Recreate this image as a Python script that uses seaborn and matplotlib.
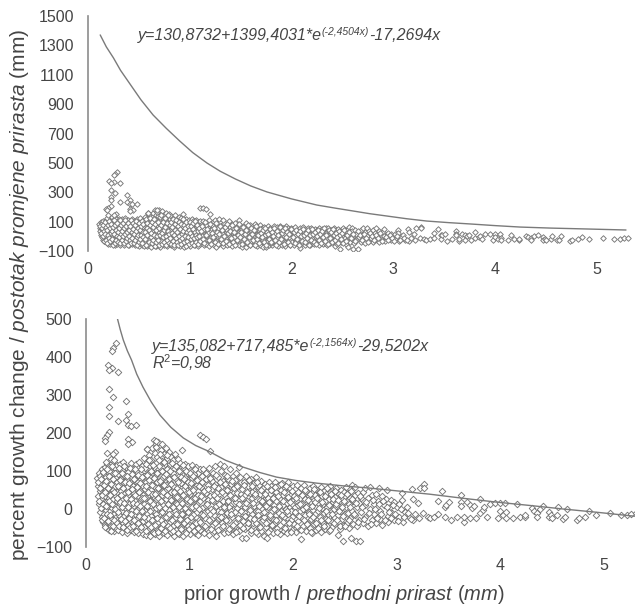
"""Prior growth vs percent growth change, same points on two y scales with upper boundary curves."""

import matplotlib.pyplot as plt
import pandas as pd
import seaborn as sns

# points, (prior growth, percent change), grouped by x range
band_010_030 = [
    (0.11, 82), (0.12, 60), (0.12, 35), (0.13, 95), (0.13, 71), (0.13, 12), (0.14, 48), (0.14, -8), (0.14, 88), (0.15, 26),
    (0.15, 66), (0.15, -22), (0.15, 104), (0.16, 5), (0.16, 43), (0.16, 77), (0.16, -35), (0.17, 92), (0.17, 18), (0.17, 58),
    (0.17, -14), (0.18, 110), (0.18, 33), (0.18, -42), (0.18, 70), (0.19, -3), (0.19, 52), (0.19, 85), (0.19, -28), (0.20, 118),
    (0.20, 22), (0.20, -50), (0.20, 64), (0.21, 40), (0.21, -18), (0.21, 98), (0.21, 8), (0.22, 76), (0.22, -38), (0.22, 30),
    (0.22, -55), (0.23, 55), (0.23, 112), (0.23, -6), (0.23, 15), (0.24, 88), (0.24, -46), (0.24, 42), (0.24, -25), (0.25, 122),
    (0.25, 68), (0.25, 3), (0.25, -52), (0.26, 26), (0.26, 96), (0.26, -33), (0.26, 50), (0.27, -12), (0.27, 78), (0.27, -58),
    (0.27, 11), (0.28, 108), (0.28, 36), (0.28, -41), (0.28, 60), (0.29, -20), (0.29, 84), (0.29, -2), (0.29, -50), (0.30, 45),
    (0.30, 115), (0.30, 20), (0.30, -30), (0.30, 72), (0.22, 100), (0.19, 125), (0.24, 132), (0.27, 128),
]
band_030_055 = [
    (0.31, -56), (0.31, 6), (0.31, 92), (0.32, 32), (0.32, -16), (0.32, 62), (0.33, 118), (0.33, -44), (0.33, 14), (0.34, 80),
    (0.34, -27), (0.34, 47), (0.35, 102), (0.35, -60), (0.35, -5), (0.35, 25), (0.36, 70), (0.36, -36), (0.36, 125), (0.37, 40),
    (0.37, -18), (0.37, 90), (0.38, 2), (0.38, -52), (0.38, 58), (0.39, 110), (0.39, 18), (0.39, -30), (0.40, 76), (0.40, -8),
    (0.40, -62), (0.41, 36), (0.41, 98), (0.41, -42), (0.42, 12), (0.42, 66), (0.42, -22), (0.43, 120), (0.43, 50), (0.43, -54),
    (0.44, -3), (0.44, 84), (0.44, 28), (0.45, -36), (0.45, 60), (0.45, 106), (0.46, 8), (0.46, -60), (0.46, 42), (0.47, -14),
    (0.47, 74), (0.47, 20), (0.48, 118), (0.48, -46), (0.48, 54), (0.49, -26), (0.49, 90), (0.49, 0), (0.50, 34), (0.50, -64),
    (0.50, 70), (0.51, 124), (0.51, -10), (0.51, 16), (0.52, 48), (0.52, -40), (0.52, 96), (0.53, -56), (0.53, 26), (0.53, 80),
    (0.54, -20), (0.54, 4), (0.54, 112), (0.55, 60), (0.55, -66), (0.55, 38), (0.55, -32), (0.48, 100), (0.36, 8), (0.40, 58),
]
band_055_080 = [
    (0.56, 134), (0.56, 88), (0.56, 14), (0.56, -48), (0.57, 52), (0.57, -4), (0.57, 108), (0.58, -26), (0.58, 72), (0.58, 30),
    (0.58, -68), (0.59, 158), (0.59, 122), (0.59, -12), (0.60, 44), (0.60, 96), (0.60, -56), (0.60, 6), (0.61, 66), (0.61, 142),
    (0.61, -36), (0.62, 24), (0.62, 114), (0.62, -70), (0.62, 84), (0.63, -18), (0.63, 50), (0.63, 130), (0.64, 0), (0.64, 76),
    (0.64, -44), (0.64, 160), (0.65, 34), (0.65, 102), (0.65, -60), (0.66, 182), (0.66, 60), (0.66, 16), (0.66, -28), (0.67, 148),
    (0.67, 88), (0.67, -66), (0.67, -8), (0.68, 120), (0.68, 42), (0.68, 172), (0.68, -50), (0.69, 70), (0.69, 10), (0.69, 136),
    (0.70, -34), (0.70, 176), (0.70, 94), (0.70, 28), (0.71, -70), (0.71, 54), (0.71, 112), (0.71, -14), (0.72, 156), (0.72, 80),
    (0.72, 2), (0.73, 170), (0.73, -46), (0.73, 38), (0.73, 126), (0.74, -24), (0.74, 64), (0.74, 100), (0.75, 146), (0.75, -62),
    (0.75, 18), (0.75, 86), (0.76, -6), (0.76, 48), (0.76, 118), (0.76, -38), (0.77, 160), (0.77, 72), (0.77, 26), (0.78, -68),
    (0.78, 104), (0.78, 6), (0.78, 134), (0.79, -20), (0.79, 56), (0.79, 90), (0.80, -52), (0.80, 150), (0.80, 34), (0.80, -2),
    (0.58, 60), (0.62, 8), (0.66, 110), (0.70, -54), (0.74, 10), (0.78, 66), (0.60, -24), (0.64, 40), (0.68, -12), (0.72, -30),
]
band_080_110 = [
    (0.81, 118), (0.81, 72), (0.81, -34), (0.81, 14), (0.82, 138), (0.82, -60), (0.82, 44), (0.83, 92), (0.83, -10), (0.83, 24),
    (0.84, 128), (0.84, -44), (0.84, 60), (0.85, -70), (0.85, 4), (0.85, 106), (0.86, 146), (0.86, 36), (0.86, -24), (0.87, 80),
    (0.87, -54), (0.87, 16), (0.88, 112), (0.88, -6), (0.88, 54), (0.89, -38), (0.89, 132), (0.89, 28), (0.90, -66), (0.90, 88),
    (0.90, 66), (0.91, 8), (0.91, -18), (0.91, 122), (0.92, 42), (0.92, -48), (0.92, 100), (0.93, 155), (0.93, -28), (0.93, 74),
    (0.94, 18), (0.94, -70), (0.94, 50), (0.95, 108), (0.95, -8), (0.95, -40), (0.96, 84), (0.96, 32), (0.96, 118), (0.97, -58),
    (0.97, 0), (0.97, 62), (0.98, 96), (0.98, -22), (0.98, 22), (0.99, -46), (0.99, 76), (0.99, 112), (1.00, 40), (1.00, -66),
    (1.00, 6), (1.01, 90), (1.01, -30), (1.01, 56), (1.02, 116), (1.02, -12), (1.02, 26), (1.03, -52), (1.03, 70), (1.03, 102),
    (1.04, 10), (1.04, -36), (1.04, 46), (1.05, 84), (1.05, -62), (1.05, -2), (1.06, 110), (1.06, 30), (1.06, -20), (1.07, 64),
    (1.07, -44), (1.07, 14), (1.08, 96), (1.08, -68), (1.08, 48), (1.09, -6), (1.09, 78), (1.09, -28), (1.10, 104), (1.10, 20),
    (1.10, -54), (0.84, 94), (0.88, 12), (0.92, 68), (0.96, -34), (1.00, 64), (1.04, 92), (0.86, -4), (0.94, -12), (1.02, 82),
]
band_110_150 = [
    (1.11, 58), (1.11, -14), (1.12, 86), (1.12, -40), (1.13, 30), (1.13, 104), (1.14, -62), (1.14, 6), (1.15, 70), (1.15, -24),
    (1.16, 42), (1.16, -50), (1.17, 92), (1.17, 16), (1.18, -6), (1.18, 62), (1.19, -68), (1.19, 108), (1.20, 34), (1.20, -32),
    (1.21, 78), (1.21, 0), (1.22, -46), (1.22, 52), (1.23, 96), (1.23, 20), (1.24, -16), (1.24, -58), (1.25, 66), (1.25, 112),
    (1.26, -71), (1.26, 8), (1.27, 44), (1.27, -28), (1.28, 84), (1.28, -4), (1.29, -52), (1.29, 26), (1.30, 100), (1.30, 58),
    (1.31, -38), (1.31, 12), (1.32, 74), (1.32, -18), (1.33, -64), (1.33, 40), (1.34, 90), (1.34, 2), (1.35, -44), (1.35, 60),
    (1.36, 22), (1.36, -10), (1.37, 80), (1.37, -60), (1.38, 48), (1.38, -30), (1.39, 104), (1.39, 10), (1.40, -50), (1.40, 66),
    (1.41, 32), (1.41, -20), (1.42, 86), (1.42, -66), (1.43, 0), (1.43, 54), (1.44, -36), (1.44, 76), (1.45, 18), (1.45, 94),
    (1.46, -54), (1.46, 42), (1.47, -12), (1.47, 64), (1.48, 110), (1.48, 26), (1.49, -42), (1.49, 6), (1.50, 70), (1.50, -26),
    (1.14, 48), (1.18, 24), (1.22, 74), (1.26, -34), (1.30, -8), (1.34, -24), (1.38, 6), (1.42, 28), (1.46, 2), (1.50, 40),
    (1.12, 2), (1.16, 80), (1.20, -12), (1.24, 38), (1.28, 56), (1.32, 20), (1.36, 50), (1.40, -4), (1.44, -8), (1.48, -58),
]
band_150_200 = [
    (1.51, 52), (1.51, -76), (1.52, 12), (1.52, -32), (1.53, 72), (1.53, -8), (1.54, 36), (1.54, -52), (1.55, 88), (1.55, -75),
    (1.56, 20), (1.56, -20), (1.57, 60), (1.57, -44), (1.58, 2), (1.58, 42), (1.59, 78), (1.59, -62), (1.60, 28), (1.60, -14),
    (1.61, 56), (1.61, -36), (1.62, 8), (1.62, 68), (1.63, -54), (1.63, 34), (1.64, -4), (1.64, 84), (1.65, -26), (1.65, 46),
    (1.66, 14), (1.66, -66), (1.67, 62), (1.67, -42), (1.68, 24), (1.68, -12), (1.69, 74), (1.69, -58), (1.70, 38), (1.70, 0),
    (1.71, -30), (1.71, 54), (1.72, 16), (1.72, -72), (1.73, 66), (1.73, -18), (1.74, 30), (1.74, -48), (1.75, -76), (1.75, 48),
    (1.76, 6), (1.76, -34), (1.77, 70), (1.77, 22), (1.78, -56), (1.78, 40), (1.79, -8), (1.79, 60), (1.80, -24), (1.80, 12),
    (1.81, 52), (1.81, -62), (1.82, 32), (1.82, -40), (1.83, 72), (1.83, 2), (1.84, -16), (1.84, 44), (1.85, -50), (1.85, 18),
    (1.86, 62), (1.86, -30), (1.87, 26), (1.87, -66), (1.88, -6), (1.88, 50), (1.89, 68), (1.89, -44), (1.90, 10), (1.90, 36),
    (1.91, -22), (1.91, -58), (1.92, 56), (1.92, 20), (1.93, -36), (1.93, 0), (1.94, 42), (1.94, -64), (1.95, 70), (1.95, -12),
    (1.96, 28), (1.96, -48), (1.97, 54), (1.97, 6), (1.98, -28), (1.98, 38), (1.99, -56), (1.99, 14), (2.00, 60), (2.00, -18),
    (1.54, 4), (1.58, -24), (1.62, 48), (1.66, -6), (1.70, 18), (1.74, 8), (1.78, -20), (1.82, 10), (1.86, -10), (1.90, -34),
    (1.94, 16), (1.98, -4), (1.56, -48), (1.60, 44), (1.64, -38), (1.68, 40), (1.72, -22), (1.76, 30), (1.80, -46), (1.84, 22),
]
band_200_250 = [
    (2.01, 34), (2.01, -40), (2.02, 4), (2.02, 52), (2.03, -60), (2.03, -14), (2.04, 22), (2.04, 64), (2.05, -32), (2.05, 10),
    (2.06, 44), (2.06, -52), (2.07, -4), (2.07, 30), (2.08, -80), (2.08, 56), (2.09, -24), (2.09, 14), (2.10, 40), (2.10, -46),
    (2.11, 0), (2.11, 62), (2.12, -16), (2.12, 26), (2.13, -58), (2.13, 48), (2.14, 8), (2.14, -36), (2.15, 34), (2.15, -8),
    (2.16, 54), (2.16, -50), (2.17, 18), (2.17, -26), (2.18, 42), (2.18, -62), (2.19, -2), (2.19, 60), (2.20, 24), (2.20, -40),
    (2.21, -14), (2.21, 36), (2.22, 6), (2.22, -54), (2.23, 50), (2.23, -28), (2.24, 16), (2.24, -6), (2.25, 44), (2.25, -46),
    (2.26, 28), (2.26, -20), (2.27, 58), (2.27, -60), (2.28, 2), (2.28, 34), (2.29, -36), (2.29, 12), (2.30, 48), (2.30, -10),
    (2.31, -52), (2.31, 22), (2.32, -26), (2.32, 40), (2.33, 6), (2.33, -44), (2.34, 54), (2.34, -14), (2.35, 26), (2.35, -58),
    (2.36, 10), (2.36, 60), (2.37, -32), (2.37, 36), (2.38, -6), (2.38, -48), (2.39, 18), (2.39, 46), (2.40, -22), (2.40, 0),
    (2.41, 32), (2.41, -40), (2.42, 56), (2.42, 8), (2.43, -69), (2.43, -16), (2.44, 40), (2.44, -34), (2.45, 20), (2.45, -52),
    (2.46, 50), (2.46, -4), (2.47, 28), (2.47, -26), (2.48, -83), (2.48, 12), (2.49, 44), (2.49, -42), (2.50, -12), (2.50, 34),
]
band_250_325 = [
    (2.51, 58), (2.51, 4), (2.52, -36), (2.52, 22), (2.53, -10), (2.53, 42), (2.54, -50), (2.54, 14), (2.55, 30), (2.55, -24),
    (2.56, -76), (2.56, 48), (2.57, 62), (2.57, -4), (2.58, -40), (2.58, 20), (2.60, 59), (2.60, 36), (2.60, -16), (2.61, -83),
    (2.62, 6), (2.62, -46), (2.63, 42), (2.64, -28), (2.64, 16), (2.65, -84), (2.66, 30), (2.66, -8), (2.68, 44), (2.68, -38),
    (2.70, 54), (2.70, 10), (2.70, -20), (2.72, 28), (2.72, -46), (2.74, 57), (2.74, 0), (2.76, 36), (2.76, -30), (2.78, 14),
    (2.78, -12), (2.80, 40), (2.80, -38), (2.82, 22), (2.83, 55), (2.84, -4), (2.84, -26), (2.86, 34), (2.86, -42), (2.88, 10),
    (2.90, 26), (2.91, 50), (2.92, -18), (2.92, -34), (2.94, 6), (2.95, 24), (2.96, -10), (2.98, 18), (2.98, -28), (3.00, 4),
    (3.02, -20), (3.02, 14), (3.05, 41), (3.05, 24), (3.06, -34), (3.08, -8), (3.10, 6), (3.12, -22), (3.15, 52), (3.16, 26),
    (3.16, -30), (3.18, -12), (3.21, 15), (3.22, -24), (3.23, 55), (3.26, -11), (3.27, 65), (3.27, 55), (3.30, -20), (3.32, -24),
]
# second pass over the dense part of the cloud, filling the gaps between the marks above
fill_010_055 = [
    (0.115, 70), (0.125, 22), (0.135, 54), (0.145, 2), (0.145, 78), (0.155, -30), (0.155, 38), (0.165, 98), (0.165, 14), (0.175, 62),
    (0.175, -24), (0.185, 44), (0.185, -48), (0.195, 8), (0.195, 74), (0.205, -12), (0.205, 104), (0.215, 54), (0.215, -32), (0.225, 20),
    (0.225, 86), (0.235, -16), (0.235, 36), (0.245, 66), (0.245, -58), (0.255, 112), (0.255, 14), (0.265, -44), (0.265, 80), (0.275, 44),
    (0.275, -28), (0.285, 0), (0.285, 94), (0.295, 28), (0.295, -36), (0.305, 60), (0.305, -8), (0.315, 108), (0.315, -46), (0.325, 18),
    (0.325, 76), (0.335, -26), (0.335, 38), (0.345, 4), (0.345, 94), (0.355, -48), (0.355, 56), (0.365, 16), (0.365, 112), (0.375, -32),
    (0.375, 72), (0.385, 30), (0.385, -10), (0.395, 88), (0.395, -56), (0.405, 46), (0.405, 4), (0.415, -24), (0.415, 68), (0.425, 108),
    (0.425, -48), (0.435, 26), (0.435, -12), (0.445, 92), (0.445, 52), (0.455, -46), (0.455, 16), (0.465, 78), (0.465, -28), (0.475, 36),
    (0.475, 104), (0.485, -4), (0.485, -58), (0.495, 58), (0.495, 12), (0.505, 90), (0.505, -36), (0.515, 44), (0.515, -18), (0.525, 68),
    (0.525, 8), (0.535, 106), (0.535, -48), (0.545, 30), (0.545, -6), (0.545, 84),
]
fill_055_110 = [
    (0.565, 30), (0.565, -20), (0.575, 118), (0.575, -58), (0.585, 8), (0.585, 90), (0.595, 46), (0.595, -40), (0.605, 128), (0.605, 76),
    (0.615, -6), (0.615, 22), (0.625, 100), (0.625, -48), (0.635, 62), (0.635, -28), (0.645, 116), (0.645, 12), (0.655, -64), (0.655, 82),
    (0.665, -42), (0.665, 40), (0.675, 164), (0.675, 2), (0.685, 96), (0.685, -24), (0.695, 54), (0.695, -60), (0.705, 130), (0.705, 6),
    (0.715, 74), (0.715, 146), (0.725, -50), (0.725, 22), (0.735, 100), (0.735, -8), (0.745, 46), (0.745, -40), (0.755, 124), (0.755, 64),
    (0.765, 2), (0.765, -58), (0.775, 92), (0.775, -22), (0.785, 38), (0.785, 142), (0.795, -44), (0.795, 14), (0.805, 78), (0.805, -12),
    (0.815, 100), (0.815, -50), (0.825, 24), (0.825, 66), (0.835, -30), (0.835, 120), (0.845, 6), (0.845, -58), (0.855, 84), (0.855, 46),
    (0.865, -14), (0.865, 112), (0.875, 32), (0.875, -40), (0.885, 70), (0.885, -62), (0.895, 4), (0.895, 100), (0.905, -26), (0.905, 48),
    (0.915, 84), (0.915, -52), (0.925, 16), (0.925, -14), (0.935, 116), (0.935, 38), (0.945, -36), (0.945, 78), (0.955, 2), (0.955, 60),
    (0.965, -64), (0.965, 100), (0.975, 26), (0.975, -30), (0.985, 70), (0.985, -8), (0.995, 46), (0.995, -52), (1.005, 20), (1.005, 96),
    (1.015, -20), (1.015, 68), (1.025, -44), (1.025, 4), (1.035, 50), (1.035, 88), (1.045, -14), (1.045, -58), (1.055, 30), (1.055, 106),
    (1.065, 8), (1.065, -38), (1.075, 76), (1.075, -8), (1.085, 36), (1.085, -50), (1.095, 60), (1.095, 0),
]
fill_110_200 = [
    (1.105, -34), (1.115, 34), (1.125, 72), (1.135, -16), (1.145, -44), (1.155, 96), (1.165, 12), (1.175, 52), (1.185, -28), (1.195, 82),
    (1.205, -52), (1.215, 24), (1.225, -4), (1.235, 60), (1.245, -36), (1.255, 90), (1.265, 30), (1.275, -54), (1.285, 14), (1.295, 70),
    (1.305, -20), (1.315, 44), (1.325, -46), (1.335, 4), (1.345, 66), (1.355, -30), (1.365, 86), (1.375, 20), (1.385, -52), (1.395, 36),
    (1.405, -14), (1.415, 74), (1.425, -42), (1.435, 28), (1.445, -60), (1.455, 60), (1.465, -24), (1.475, 12), (1.485, 84), (1.495, -4),
    (1.505, 30), (1.515, -50), (1.525, 62), (1.535, -18), (1.545, 16), (1.555, 44), (1.565, -38), (1.575, 76), (1.585, -2), (1.595, -56),
    (1.605, 60), (1.615, 16), (1.625, -26), (1.635, 40), (1.645, -60), (1.655, 70), (1.665, -16), (1.675, 8), (1.685, -48), (1.695, 50),
    (1.705, 22), (1.715, -8), (1.725, 40), (1.735, -36), (1.745, 60), (1.755, -60), (1.765, 18), (1.775, -16), (1.785, 50), (1.795, -42),
    (1.805, 30), (1.815, 0), (1.825, 58), (1.835, -28), (1.845, -60), (1.855, 34), (1.865, 8), (1.875, -42), (1.885, 66), (1.895, -16),
    (1.905, 22), (1.915, 46), (1.925, -50), (1.935, 60), (1.945, -6), (1.955, 32), (1.965, -36), (1.975, 18), (1.985, -60), (1.995, 48),
]
fill_200_300 = [
    (2.015, -8), (2.025, 28), (2.035, -44), (2.045, 46), (2.055, -18), (2.065, 14), (2.075, -56), (2.085, 36), (2.095, 0), (2.105, -30),
    (2.115, 50), (2.125, 6), (2.135, -40), (2.145, 24), (2.155, -14), (2.165, 40), (2.175, -60), (2.185, 8), (2.195, -22), (2.205, 52),
    (2.215, 18), (2.225, -36), (2.235, 30), (2.245, -50), (2.255, 2), (2.265, 44), (2.275, -28), (2.285, 18), (2.295, -46), (2.305, 34),
    (2.315, -6), (2.325, 54), (2.335, -30), (2.345, 10), (2.355, -54), (2.365, 40), (2.375, -12), (2.385, 26), (2.395, -38), (2.405, 48),
    (2.415, 12), (2.425, -28), (2.435, 24), (2.445, -4), (2.455, -46), (2.465, 36), (2.475, 6), (2.485, -18), (2.495, 20), (2.505, -44),
    (2.52, 40), (2.54, -30), (2.55, 6), (2.57, 26), (2.59, -12), (2.61, 16), (2.63, -34), (2.65, 34), (2.67, 6), (2.69, -26),
    (2.71, 18), (2.73, -10), (2.75, -40), (2.77, 24), (2.79, 0), (2.81, -24), (2.83, 12), (2.85, -14), (2.87, 20), (2.89, -30),
    (2.91, 4), (2.93, -8), (2.95, -24), (2.97, 10), (2.99, -14), (3.01, -32), (3.04, 0), (3.07, -22), (3.11, -10), (3.14, -26),
]
sparse_right = [
    (3.36, -20), (3.40, 21), (3.40, -14), (3.44, 47), (3.47, 6), (3.47, -20), (3.48, 11), (3.51, 18), (3.53, -29), (3.58, -20),
    (3.62, 37), (3.62, 19), (3.62, 8), (3.65, -33), (3.65, -20), (3.68, 19), (3.71, 11), (3.71, -23), (3.73, 2), (3.75, 9),
    (3.77, -23), (3.81, 26), (3.81, -11), (3.84, -3), (3.85, 4), (3.87, -20), (3.90, 13), (3.95, 15), (3.98, -23), (4.00, 15),
    (4.00, -4), (4.03, -16), (4.05, 15), (4.06, -9), (4.06, -24), (4.13, -24), (4.16, 12), (4.19, -20), (4.24, -22), (4.24, -16),
    (4.31, 2), (4.33, -6), (4.36, -11), (4.36, -22), (4.39, -1), (4.42, 8), (4.47, -7), (4.47, -22), (4.49, -16), (4.50, -24),
    (4.55, -16), (4.56, 4), (4.61, -27), (4.63, -22), (4.65, -1), (4.74, -29), (4.76, -23), (4.82, -20), (4.86, -4), (4.93, -15),
    (5.06, -10), (5.17, -16), (5.23, -17), (5.27, -13), (5.31, -11),
]
high_outliers = [
    (0.287, 436), (0.264, 425), (0.254, 415), (0.21, 379), (0.254, 372), (0.225, 366), (0.312, 361), (0.225, 316), (0.264, 295),
    (0.386, 284), (0.225, 268), (0.41, 249), (0.225, 244), (0.312, 232), (0.386, 233), (0.41, 222), (0.43, 218), (0.483, 221),
    (0.225, 203), (0.20, 195), (0.18, 186), (0.187, 178), (0.41, 185), (0.44, 177), (0.41, 172), (0.20, 148), (0.28, 151),
    (0.26, 146), (1.10, 195), (1.13, 190), (1.16, 183), (1.20, 153), (0.68, 178), (0.59, 158), (1.29, 118), (1.33, 112),
]

# upper curves
top_curve_x = [0.12, 0.18, 0.25, 0.32, 0.40, 0.52, 0.64, 0.77, 0.90, 1.03, 1.17, 1.30, 1.45, 1.60, 1.76, 2.00, 2.25, 2.43, 2.61, 2.77, 2.94, 3.13, 3.33, 3.55, 3.76, 4.00, 4.25, 4.55, 4.90, 5.29]
top_curve_y = [1371, 1290, 1215, 1130, 1050, 930, 826, 735, 650, 570, 499, 443, 390, 343, 302, 255, 213, 192, 172, 154, 138, 120, 104, 93, 84, 73, 63, 56, 50, 43]
bottom_curve_x = [0.30, 0.33, 0.36, 0.40, 0.44, 0.49, 0.55, 0.63, 0.715, 0.82, 0.94, 1.06, 1.20, 1.35, 1.52, 1.68, 1.84, 2.03, 2.23, 2.48, 2.74, 3.03, 3.32, 3.65, 3.97, 4.30, 4.61, 4.95, 5.30]
bottom_curve_y = [505, 473, 445, 416, 392, 355, 321, 282, 247, 215, 187, 167, 150, 128, 110, 96, 84, 75, 68, 61, 55, 47, 39, 28, 18, 9, 0, -9, -19]

TOP_TICKS = [-100, 100, 300, 500, 700, 900, 1100, 1300, 1500]
BOTTOM_TICKS = [-100, 0, 100, 200, 300, 400, 500]
X_TICKS = [0, 1, 2, 3, 4, 5]

WIDTH, HEIGHT = 635, 608
TEXT_COLOR = "#454545"
AXIS_COLOR = "#8c8c8c"


def draw_panel(ax, df, curve_x, curve_y, yticks, xmax, size):
    sns.scatterplot(data=df, x="x", y="y", ax=ax, marker="D", s=size, color="white",
                    edgecolor="#767676", linewidth=0.65, zorder=2)
    curve = pd.DataFrame({"x": curve_x, "y": curve_y})
    sns.lineplot(data=curve, x="x", y="y", ax=ax, color="#7a7a7a", linewidth=1.0, zorder=3)
    ax.set_xlim(0, xmax)
    ax.set_ylim(yticks[0], yticks[-1])
    ax.set_xticks(X_TICKS)
    ax.set_yticks(yticks)
    ax.set_xlabel("")
    ax.set_ylabel("")
    sns.despine(ax=ax, bottom=True)
    ax.spines["left"].set_color(AXIS_COLOR)
    ax.spines["left"].set_linewidth(1.2)
    ax.tick_params(axis="y", length=5, width=1.0, color=AXIS_COLOR, labelcolor=TEXT_COLOR, labelsize=11.5, pad=5)
    ax.tick_params(axis="x", length=0, labelcolor=TEXT_COLOR, labelsize=11.5, pad=8)


def equation(ax, x, y, head, exponent, tail):
    first = ax.text(x, y, head, transform=ax.figure.transFigure, style="italic", fontsize=11.5, color=TEXT_COLOR)
    sup = ax.annotate(exponent, xy=(1, 0.4), xycoords=first, va="bottom", style="italic", fontsize=7.5, color=TEXT_COLOR)
    ax.annotate(tail, xy=(1, 0), xycoords=first, xytext=(sup.get_window_extent(ax.figure.canvas.get_renderer()).width, 0),
                textcoords="offset pixels", va="bottom", style="italic", fontsize=11.5, color=TEXT_COLOR)


def main():
    sns.set_style("white")
    plt.rcParams["font.family"] = ["Liberation Sans", "DejaVu Sans"]
    plt.rcParams["mathtext.fontset"] = "custom"
    plt.rcParams["mathtext.rm"] = "Liberation Sans"
    plt.rcParams["mathtext.it"] = "Liberation Sans:italic"

    points = (band_010_030 + band_030_055 + band_055_080 + band_080_110 + band_110_150
              + band_150_200 + band_200_250 + band_250_325 + fill_010_055 + fill_055_110
              + fill_110_200 + fill_200_300 + sparse_right + high_outliers)
    df = pd.DataFrame(points, columns=["x", "y"])
    print(f"[INFO] {len(df)} points")

    fig = plt.figure(figsize=(WIDTH / 100, HEIGHT / 100), dpi=100)
    ax_top = fig.add_axes([88 / WIDTH, 1 - 251 / HEIGHT, (WIDTH - 88) / WIDTH, 235 / HEIGHT])
    ax_bottom = fig.add_axes([86 / WIDTH, 1 - 547 / HEIGHT, (WIDTH - 86) / WIDTH, 228 / HEIGHT])

    # the two panels show the same points; the upper one just has a much longer y range
    draw_panel(ax_top, df, top_curve_x, top_curve_y, TOP_TICKS, 547 / 101.7, 8)
    draw_panel(ax_bottom, df, bottom_curve_x, bottom_curve_y, BOTTOM_TICKS, 549 / 103.5, 11)

    equation(ax_top, 138 / WIDTH, 1 - 40 / HEIGHT, "y=130,8732+1399,4031*e", "(-2,4504x)", "-17,2694x")
    equation(ax_bottom, 152 / WIDTH, 1 - 351 / HEIGHT, "y=135,082+717,485*e", "(-2,1564x)", "-29,5202x")
    fig.text(152 / WIDTH, 1 - 369 / HEIGHT, r"R$^{2}$=0,98", style="italic", fontsize=11.5, color=TEXT_COLOR)

    fig.text(20 / WIDTH, 1 - 295 / HEIGHT,
             r"percent growth change / $\mathit{postotak\ promjene\ prirasta}$ (mm)",
             rotation=90, ha="center", va="center", fontsize=15, color=TEXT_COLOR)
    fig.text(344 / WIDTH, 1 - 595 / HEIGHT,
             r"prior growth / $\mathit{prethodni\ prirast\ (mm)}$",
             ha="center", va="center", fontsize=14.5, color=TEXT_COLOR)

    fig.savefig("out.png", dpi=100)
    plt.close(fig)


if __name__ == "__main__":
    main()
